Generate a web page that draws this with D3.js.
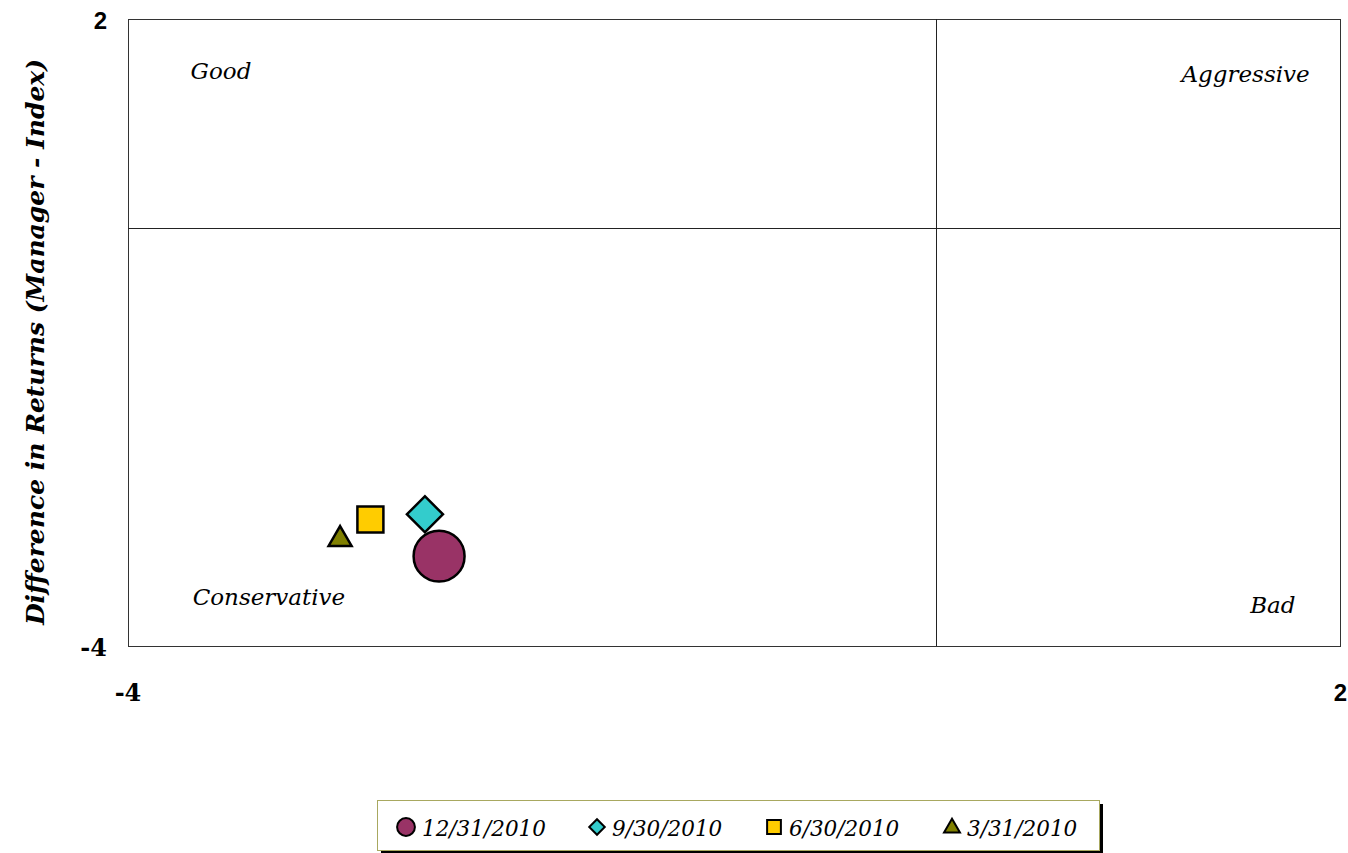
<!DOCTYPE html>
<meta charset="utf-8">
<style>
body { margin: 0; background: #fff; }
</style>
<body>
<div id="chart"></div>
</body>
<script src="https://d3js.org/d3.v7.min.js"></script>
<script>
var width = 1348, height = 853;
var margin = {top: 19, right: 8, bottom: 207, left: 128};
var serif = "'DejaVu Serif', 'Liberation Serif', serif";
var sans = "'Liberation Sans', Arial, sans-serif";

// data
var seriesNames = ["12/31/2010", "9/30/2010", "6/30/2010", "3/31/2010"];
var xValues = [-2.46, -2.53, -2.80, -2.95];
var yValues = [-3.14, -2.74, -2.79, -2.96];
var seriesColors = ["#993366", "#33CCCC", "#FFCC00", "#808000"];
var seriesShapes = ["circle", "diamond", "square", "triangle"];
var xTicks = [-4, 2];
var yTicks = [-4, 2];
var quadrants = ["Good", "Aggressive", "Conservative", "Bad"];

var x = d3.scaleLinear([-4, 2], [margin.left, width - margin.right]);
var y = d3.scaleLinear([-4, 2], [height - margin.bottom, margin.top]);

var svg = d3.select("#chart").append("svg")
  .attr("width", width)
  .attr("height", height)
  .attr("font-family", serif);

// plot frame
svg.append("rect")
  .attr("x", x(-4) + 0.5).attr("y", y(2) + 0.5)
  .attr("width", x(2) - x(-4)).attr("height", y(-4) - y(2))
  .attr("fill", "none").attr("stroke", "#333").attr("stroke-width", 1);

// zero lines
svg.append("line")
  .attr("x1", Math.round(x(0)) + 0.5).attr("x2", Math.round(x(0)) + 0.5)
  .attr("y1", y(2)).attr("y2", y(-4))
  .attr("stroke", "#222");
svg.append("line")
  .attr("x1", x(-4)).attr("x2", x(2))
  .attr("y1", Math.round(y(0)) + 0.5).attr("y2", Math.round(y(0)) + 0.5)
  .attr("stroke", "#222");

// tick labels
svg.selectAll(".ytick").data(yTicks).join("text")
  .attr("class", "ytick")
  .attr("x", 107)
  .attr("y", d => y(d) + 10)
  .attr("text-anchor", "end")
  .attr("font-weight", "bold")
  .attr("font-size", "24px")
  .attr("font-family", d => d > 0 ? sans : serif)
  .text(d => d);

svg.selectAll(".xtick").data(xTicks).join("text")
  .attr("class", "xtick")
  .attr("x", d => d > 0 ? x(d) + 7 : x(d))
  .attr("y", 701)
  .attr("text-anchor", d => d > 0 ? "end" : "middle")
  .attr("font-weight", "bold")
  .attr("font-size", "24px")
  .attr("font-family", d => d > 0 ? sans : serif)
  .text(d => d);

// y axis title
svg.append("text")
  .attr("transform", "translate(44," + 342 + ") rotate(-90)")
  .attr("text-anchor", "middle")
  .attr("font-weight", "bold")
  .attr("font-style", "italic")
  .attr("font-size", "25px")
  .text("Difference in Returns (Manager - Index)");

// quadrant labels
var qPos = [
  {x: x(-3.69), y: y(1.43), anchor: "start"},
  {x: x(1.85), y: y(1.40), anchor: "end"},
  {x: x(-3.68), y: y(-3.61), anchor: "start"},
  {x: x(1.78), y: y(-3.68), anchor: "end"}
];
svg.selectAll(".quad").data(quadrants).join("text")
  .attr("class", "quad")
  .attr("x", (d, i) => qPos[i].x)
  .attr("y", (d, i) => qPos[i].y)
  .attr("text-anchor", (d, i) => qPos[i].anchor)
  .attr("font-style", "italic")
  .attr("font-size", "23px")
  .text(d => d);

var symbolSizes = {circle: 2040, diamond: 650, square: 676, triangle: 230};
function symbolType(s) {
  return {circle: d3.symbolCircle, diamond: d3.symbolSquare, square: d3.symbolSquare, triangle: d3.symbolTriangle}[s];
}
function symbolPath(s, size) {
  return d3.symbol().type(symbolType(s)).size(size)();
}

// points, drawn back to front
var pts = seriesNames.map((d, i) => ({name: d, x: xValues[i], y: yValues[i], color: seriesColors[i], shape: seriesShapes[i]})).reverse();
svg.selectAll(".pt").data(pts).join("path")
  .attr("class", "pt")
  .attr("transform", d => "translate(" + x(d.x) + "," + y(d.y) + ")" + (d.shape == "diamond" ? " rotate(45)" : "") + (d.shape == "triangle" ? " translate(0,2)" : ""))
  .attr("d", d => symbolPath(d.shape, symbolSizes[d.shape]))
  .attr("fill", d => d.color)
  .attr("stroke", "#000")
  .attr("stroke-width", 2.5);

// legend
var lg = svg.append("g");
lg.append("rect")
  .attr("x", 381).attr("y", 804).attr("width", 722).attr("height", 50)
  .attr("fill", "#000");
lg.append("rect")
  .attr("x", 377.5).attr("y", 800.5).attr("width", 722).attr("height", 50)
  .attr("fill", "#fff").attr("stroke", "#a8a860").attr("stroke-width", 1);

var legX = [406, 597, 774, 952];
var legSizes = {circle: 250, diamond: 120, square: 190, triangle: 110};
var items = lg.selectAll(".li").data(seriesNames).join("g")
  .attr("class", "li")
  .attr("transform", (d, i) => "translate(" + legX[i] + ",827)");
items.append("path")
  .attr("transform", (d, i) => seriesShapes[i] == "diamond" ? "rotate(45)" : (seriesShapes[i] == "triangle" ? "translate(0,1)" : null))
  .attr("d", (d, i) => symbolPath(seriesShapes[i], legSizes[seriesShapes[i]]))
  .attr("fill", (d, i) => seriesColors[i])
  .attr("stroke", "#000")
  .attr("stroke-width", 2);
items.append("text")
  .attr("x", (d, i) => i == 0 ? 16 : 15)
  .attr("y", 9)
  .attr("font-style", "italic")
  .attr("font-size", "21.5px")
  .text(d => d);
</script>
